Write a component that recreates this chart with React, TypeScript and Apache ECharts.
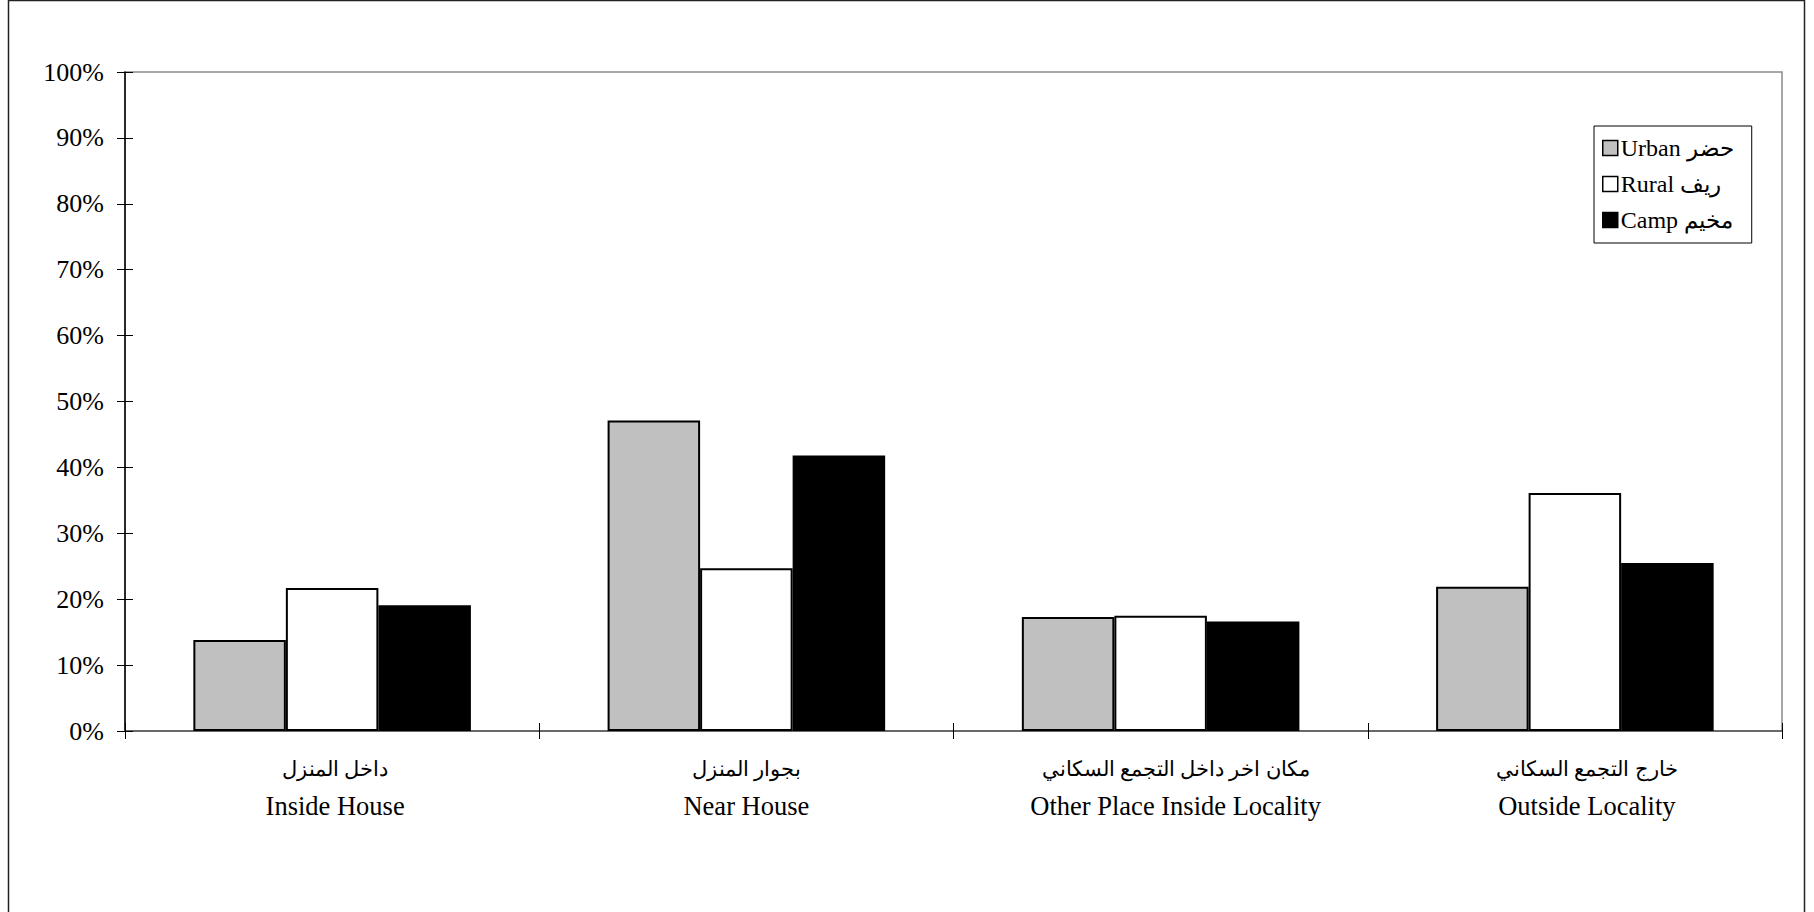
import React, { useEffect, useRef } from "react";
import * as echarts from "echarts";

const categoriesAr = [
  "داخل المنزل",
  "بجوار المنزل",
  "مكان اخر داخل التجمع السكاني",
  "خارج التجمع السكاني",
];
const categoriesEn = [
  "Inside House",
  "Near House",
  "Other Place Inside Locality",
  "Outside Locality",
];
const seriesNames = ["Urban حضر", "Rural ريف", "Camp مخيم"];
const urbanValues = [13.8, 47.1, 17.3, 21.9];
const ruralValues = [21.7, 24.7, 17.5, 36.1];
const campValues = [19.1, 41.8, 16.6, 25.5];
const yTicks = [0, 10, 20, 30, 40, 50, 60, 70, 80, 90, 100];
const labelShift = [6, 0, 30, 24];

const FONT = '"Liberation Serif", "Times New Roman", "DejaVu Serif", serif';

export default function App() {
  const ref = useRef<HTMLDivElement>(null);
  useEffect(() => {
    if (!ref.current) return;
    const chart = echarts.init(ref.current, undefined, { renderer: "svg" });
    const cats = categoriesEn.map((en, i) => ({
      value: categoriesAr[i] + "\n" + en,
      textStyle: { padding: [0, 0, 0, labelShift[i]] },
    }));
    const mkSeries = (name: string, data: number[], color: string) => ({
      name,
      type: "bar",
      data,
      xAxisIndex: 0,
      yAxisIndex: 0,
      barGap: "0%",
      barCategoryGap: "33%",
      itemStyle: { color, borderColor: "#000", borderWidth: 2 },
    });
    chart.setOption({
      animation: false,
      backgroundColor: "#fff",
      textStyle: { fontFamily: FONT },
      graphic: [
        {
          type: "rect",
          shape: { x: 8.5, y: 0.5, width: 1796, height: 1000 },
          style: { fill: "none", stroke: "#222", lineWidth: 1.5 },
          silent: true,
          z: 0,
        },
      ],
      grid: {
        left: 125,
        top: 72,
        width: 1657,
        height: 659,
        show: true,
        borderColor: "#8a8a8a",
        borderWidth: 1.5,
        backgroundColor: "transparent",
      },
      legend: {
        orient: "vertical",
        left: 1594,
        top: 126,
        padding: [10, 18, 11, 8],
        itemWidth: 15,
        itemHeight: 15,
        itemGap: 12,
        icon: "rect",
        backgroundColor: "#fff",
        borderColor: "#000",
        borderWidth: 1,
        borderRadius: 0,
        data: seriesNames,
        itemStyle: { borderColor: "#000", borderWidth: 1.5 },
        formatter: (name: string) => {
          const sp = name.indexOf(" ");
          return "{en|" + name.slice(0, sp) + "} {ar|" + name.slice(sp + 1) + "}";
        },
        textStyle: {
          fontFamily: FONT,
          fontSize: 24,
          color: "#000",
          padding: [0, 0, 0, -2],
          rich: {
            en: { fontFamily: FONT, fontSize: 24, color: "#000" },
            ar: { fontFamily: FONT, fontSize: 23, color: "#000" },
          },
        },
      },
      xAxis: [
        {
          type: "category",
          data: cats,
          axisLine: { lineStyle: { color: "#555", width: 1.5 } },
          axisTick: { show: true, length: 8, lineStyle: { color: "#000", width: 1 } },
          axisLabel: {
            fontFamily: FONT,
            fontSize: 26.5,
            color: "#000",
            lineHeight: 37,
            margin: 19,
            interval: 0,
            formatter: (v: string) => {
              const [ar, en] = v.split("\n");
              return "{ar|" + ar + "}\n{en|" + en + "}";
            },
            rich: {
              ar: { fontFamily: FONT, fontSize: 21, color: "#000", lineHeight: 37 },
              en: { fontFamily: FONT, fontSize: 26.5, color: "#000", lineHeight: 37 },
            },
          },
          splitLine: { show: false },
        },
        {
          type: "category",
          data: cats.map((c) => c.value),
          position: "bottom",
          axisLine: { show: false },
          axisTick: { show: true, inside: true, length: 8, lineStyle: { color: "#000", width: 1 } },
          axisLabel: { show: false },
          splitLine: { show: false },
        },
      ],
      yAxis: [
        {
          type: "value",
          min: 0,
          max: 100,
          interval: 10,
          axisLine: { show: true, lineStyle: { color: "#000", width: 1.5 } },
          axisTick: { show: true, length: 8, lineStyle: { color: "#000", width: 1 } },
          axisLabel: {
            fontFamily: FONT,
            fontSize: 26,
            color: "#000",
            margin: 21,
            formatter: (v: number) => (yTicks.includes(v) ? v + "%" : ""),
          },
          splitLine: { show: false },
        },
        {
          type: "value",
          min: 0,
          max: 100,
          interval: 10,
          position: "left",
          axisLine: { show: false },
          axisTick: { show: true, inside: true, length: 8, lineStyle: { color: "#000", width: 1 } },
          axisLabel: { show: false },
          splitLine: { show: false },
        },
      ],
      series: [
        mkSeries(seriesNames[0], urbanValues, "#c0c0c0"),
        mkSeries(seriesNames[1], ruralValues, "#ffffff"),
        mkSeries(seriesNames[2], campValues, "#000000"),
      ],
    });
    return () => chart.dispose();
  }, []);
  return (
    <div
      ref={ref}
      style={{ position: "absolute", left: 0, top: 0, width: 1814, height: 912 }}
    />
  );
}
